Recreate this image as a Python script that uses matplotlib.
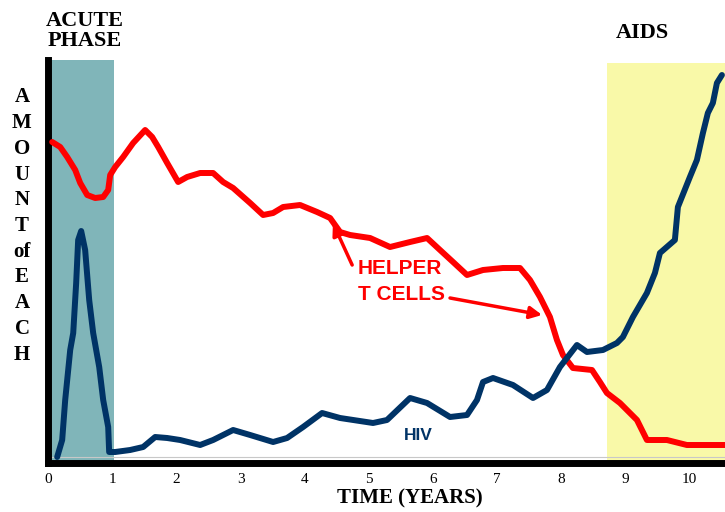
import matplotlib
matplotlib.use("Agg")
import matplotlib.pyplot as plt

# ---- data (years, relative amount) ----
helper_t = [0.065, 0.19, 0.299, 0.424, 0.502, 0.611, 0.735, 0.860, 0.938, 0.969,
            1.047, 1.171, 1.327, 1.514, 1.623, 1.717, 1.857, 2.028, 2.168, 2.371,
            2.573, 2.729, 2.885, 3.150, 3.352, 3.508, 3.664, 3.928, 4.193, 4.396,
            4.551, 4.707, 5.019, 5.330, 5.642, 5.907, 6.109, 6.312, 6.530, 6.779,
            7.090, 7.355, 7.511, 7.667, 7.822, 7.931, 8.025, 8.180, 8.477, 8.601,
            8.710, 8.913, 9.178, 9.333, 9.645, 9.956, 10.548]
helper_v = [321, 316, 306, 293, 280, 268, 265, 266, 273, 288,
            296, 306, 320, 333, 326, 316, 300, 281, 286, 290,
            290, 281, 275, 260, 248, 250, 256, 258, 251, 245,
            231, 228, 225, 216, 221, 225, 213, 201, 188, 193,
            195, 195, 183, 166, 146, 123, 108, 95, 93, 81,
            70, 60, 43, 23, 23, 18, 18]

hiv_t = [0.143, 0.221, 0.268, 0.346, 0.393, 0.439, 0.470, 0.517, 0.579, 0.642,
         0.704, 0.798, 0.860, 0.938, 0.953, 1.047, 1.280, 1.483, 1.670, 1.857,
         2.059, 2.371, 2.573, 2.885, 3.150, 3.508, 3.726, 3.975, 4.271, 4.551,
         5.065, 5.283, 5.642, 5.907, 6.265, 6.530, 6.685, 6.779, 6.935, 7.246,
         7.558, 7.776, 7.978, 8.243, 8.399, 8.648, 8.866, 8.959, 9.115, 9.333,
         9.458, 9.536, 9.769, 9.816, 10.003, 10.112, 10.206, 10.283, 10.361, 10.424,
         10.502]
hiv_v = [6, 23, 63, 113, 130, 180, 223, 232, 213, 163,
         130, 96, 63, 36, 11, 11, 13, 16, 26, 25,
         23, 18, 23, 33, 28, 21, 25, 36, 50, 45,
         40, 43, 65, 60, 46, 48, 63, 81, 85, 78,
         65, 73, 96, 118, 111, 113, 120, 126, 146, 170,
         190, 210, 223, 256, 286, 303, 330, 350, 360, 380,
         388]

tick_years = list(range(0, 11))
tick_labels = [str(t) for t in tick_years]
acute_span = (0.0, 1.03)
aids_span = (8.71, 10.6)

RED = "#ff0000"
NAVY = "#003366"
TEAL = "#80b5b9"
YELLOW = "#f9f9a8"

fig = plt.figure(figsize=(7.25, 5.12), dpi=100)
ax = fig.add_axes([48 / 725, 49 / 512, 1 - 48 / 725, 403 / 512])
ax.set_xlim(0, 10.55)
ax.set_ylim(0, 403)

ax.axvspan(*acute_span, ymin=0, ymax=1.0, color=TEAL, lw=0, zorder=0)
ax.axvspan(*aids_span, ymin=0, ymax=400 / 403, color=YELLOW, lw=0, zorder=0)
ax.axhline(6, color="#c8c8c8", lw=0.8, zorder=1)

ax.plot(helper_t, helper_v, color=RED, lw=4.3, solid_joinstyle="round",
        solid_capstyle="round", zorder=3)
ax.plot(hiv_t, hiv_v, color=NAVY, lw=4.3, solid_joinstyle="round",
        solid_capstyle="round", zorder=4)

for s in ["top", "right"]:
    ax.spines[s].set_visible(False)
ax.spines["left"].set_linewidth(5)
ax.spines["bottom"].set_linewidth(5)
ax.spines["left"].set_color("black")
ax.spines["bottom"].set_color("black")
ax.set_yticks([])
ax.set_xticks(tick_years)
ax.set_xticklabels(tick_labels, family="Liberation Serif", fontsize=11)
ax.tick_params(axis="x", length=0, pad=7)

# annotations
sans = "Liberation Sans"
ax.text(4.83, 195, "HELPER", color=RED, fontsize=15, fontweight="bold",
        family=sans, ha="left", va="center", zorder=5)
ax.text(4.83, 168, "T CELLS", color=RED, fontsize=15, fontweight="bold",
        family=sans, ha="left", va="center", zorder=5)
ax.annotate("", xy=(4.44, 240), xytext=(4.74, 198),
            arrowprops=dict(arrowstyle="-|>", color=RED, lw=2.5,
                            mutation_scale=18, shrinkA=0, shrinkB=0), zorder=5)
ax.annotate("", xy=(7.70, 148), xytext=(6.265, 165),
            arrowprops=dict(arrowstyle="-|>", color=RED, lw=2.5,
                            mutation_scale=18, shrinkA=0, shrinkB=0), zorder=5)
ax.text(5.77, 28, "HIV", color=NAVY, fontsize=12.5, fontweight="bold",
        family=sans, ha="center", va="center", zorder=5)

serif = "Liberation Serif"
fig.text(85 / 725, 1 - 31 / 512, "ACUTE\nPHASE", ha="center", va="center",
         fontsize=16, fontweight="bold", family=serif, linespacing=1.0)
fig.text(642 / 725, 1 - 33 / 512, "AIDS", ha="center", va="center",
         fontsize=16, fontweight="bold", family=serif)
fig.text(22 / 725, 1 - 226 / 512, "A\nM\nO\nU\nN\nT\nof\nE\nA\nC\nH",
         ha="center", va="center", fontsize=15, fontweight="bold",
         family=serif, linespacing=1.38)
fig.text(410 / 725, 1 - 498 / 512, "TIME (YEARS)", ha="center", va="center",
         fontsize=15, fontweight="bold", family=serif)

fig.savefig("out.png", dpi=100)
